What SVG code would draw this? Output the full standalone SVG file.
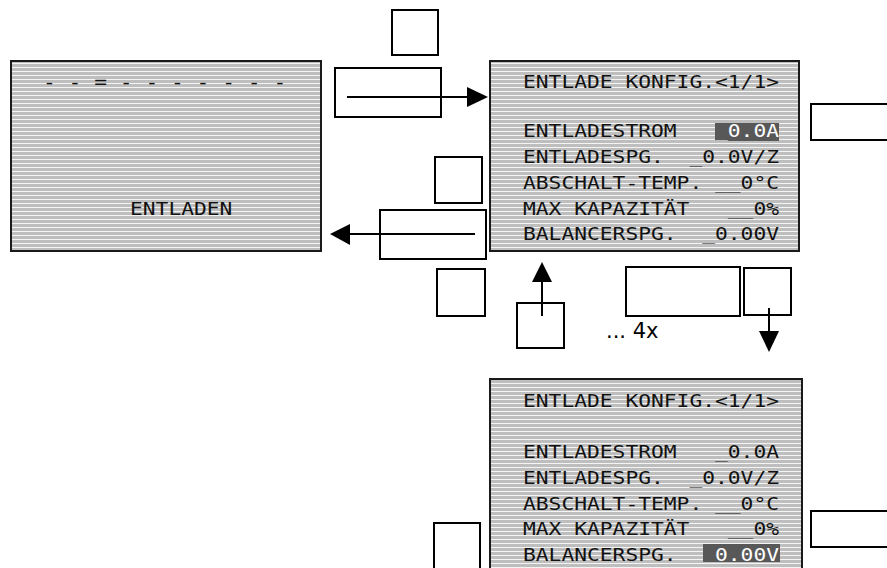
<svg xmlns="http://www.w3.org/2000/svg" width="887" height="568" viewBox="0 0 887 568">
<style>
.box{fill:none;stroke:#000;stroke-width:2}
.panel{fill:url(#stripes);stroke:#1a1a1a;stroke-width:2}
.lcd{font-family:"DejaVu Sans Mono","Liberation Mono",monospace;font-size:18px;fill:#111}
.inv{fill:#fff}
.hl{fill:#585858}
.wire{stroke:#000;stroke-width:2;fill:none}
.head{fill:#000}
.note{font-family:"DejaVu Sans","Liberation Sans",sans-serif;font-size:21px;fill:#000}
</style>
<defs>
<pattern id="stripes" patternUnits="userSpaceOnUse" width="8" height="4">
<rect width="8" height="4" fill="#bebebe"/>
<rect y="3" width="8" height="1" fill="#f4f4f4"/>
</pattern>
</defs>
<rect width="887" height="568" fill="#fff"/>

<g id="screen-main">
<rect class="panel" x="11" y="61" width="310" height="190"/>
<text class="lcd" x="43" y="88" textLength="243.2" lengthAdjust="spacingAndGlyphs">- - = - - - - - - -</text>
<text class="lcd" x="130" y="215" textLength="102.4" lengthAdjust="spacingAndGlyphs">ENTLADEN</text>
</g>

<g id="screen-config">
<rect class="panel" x="490" y="61" width="309" height="190"/>
<rect class="hl" x="715" y="123" width="64" height="18"/>
<text class="lcd" x="523" y="88" textLength="256" lengthAdjust="spacingAndGlyphs">ENTLADE KONFIG.&lt;1/1&gt;</text>
<text class="lcd" x="523" y="137" textLength="153.6" lengthAdjust="spacingAndGlyphs">ENTLADESTROM</text>
<text class="lcd inv" x="715" y="137" textLength="64" lengthAdjust="spacingAndGlyphs">_0.0A</text>
<text class="lcd" x="523" y="163" textLength="140.8" lengthAdjust="spacingAndGlyphs">ENTLADESPG.</text>
<text class="lcd" x="689.4" y="163" textLength="89.6" lengthAdjust="spacingAndGlyphs">_0.0V/Z</text>
<text class="lcd" x="523" y="188.5" textLength="179.2" lengthAdjust="spacingAndGlyphs">ABSCHALT-TEMP.</text>
<text class="lcd" x="715" y="188.5" textLength="64" lengthAdjust="spacingAndGlyphs">__0°C</text>
<text class="lcd" x="523" y="214.5" textLength="166.4" lengthAdjust="spacingAndGlyphs">MAX KAPAZITÄT</text>
<text class="lcd" x="727.8" y="214.5" textLength="51.2" lengthAdjust="spacingAndGlyphs">__0%</text>
<text class="lcd" x="523" y="240" textLength="153.6" lengthAdjust="spacingAndGlyphs">BALANCERSPG.</text>
<text class="lcd" x="702.2" y="240" textLength="76.8" lengthAdjust="spacingAndGlyphs">_0.00V</text>
</g>

<g id="screen-config-2">
<rect class="panel" x="490" y="379" width="312" height="200"/>
<rect class="hl" x="703" y="544" width="77" height="18"/>
<text class="lcd" x="523" y="407" textLength="256" lengthAdjust="spacingAndGlyphs">ENTLADE KONFIG.&lt;1/1&gt;</text>
<text class="lcd" x="523" y="458" textLength="153.6" lengthAdjust="spacingAndGlyphs">ENTLADESTROM</text>
<text class="lcd" x="715" y="458" textLength="64" lengthAdjust="spacingAndGlyphs">_0.0A</text>
<text class="lcd" x="523" y="484" textLength="140.8" lengthAdjust="spacingAndGlyphs">ENTLADESPG.</text>
<text class="lcd" x="689.4" y="484" textLength="89.6" lengthAdjust="spacingAndGlyphs">_0.0V/Z</text>
<text class="lcd" x="523" y="509.5" textLength="179.2" lengthAdjust="spacingAndGlyphs">ABSCHALT-TEMP.</text>
<text class="lcd" x="715" y="509.5" textLength="64" lengthAdjust="spacingAndGlyphs">__0°C</text>
<text class="lcd" x="523" y="535" textLength="166.4" lengthAdjust="spacingAndGlyphs">MAX KAPAZITÄT</text>
<text class="lcd" x="727.8" y="535" textLength="51.2" lengthAdjust="spacingAndGlyphs">__0%</text>
<text class="lcd" x="523" y="560.5" textLength="153.6" lengthAdjust="spacingAndGlyphs">BALANCERSPG.</text>
<text class="lcd inv" x="715" y="560.5" textLength="64" lengthAdjust="spacingAndGlyphs">0.00V</text>
</g>

<g id="key-top"><rect class="box" x="392" y="10" width="46" height="45"/></g>
<g id="key-enter"><rect class="box" x="335" y="68" width="106" height="49"/></g>
<g id="key-mid"><rect class="box" x="435" y="157" width="47" height="46"/></g>
<g id="key-back"><rect class="box" x="380" y="210" width="106" height="49"/></g>
<g id="key-low"><rect class="box" x="437" y="269" width="48" height="47"/></g>
<g id="key-up"><rect class="box" x="517" y="303" width="47" height="45"/></g>
<g id="key-wide"><rect class="box" x="626" y="267" width="114" height="49"/></g>
<g id="key-down"><rect class="box" x="744" y="268" width="47" height="47"/></g>
<g id="key-right-top"><rect class="box" x="811" y="104" width="90" height="36"/></g>
<g id="key-right-bottom"><rect class="box" x="811" y="511" width="90" height="36"/></g>
<g id="key-left-bottom"><rect class="box" x="434" y="523" width="46" height="60"/></g>
<g id="repeat-label"><text class="note" x="606" y="338">... 4x</text></g>

<g id="connectors">
<line class="wire" x1="347" y1="97" x2="468" y2="97"/>
<polygon class="head" points="467,87 488,97 467,107"/>
<line class="wire" x1="475" y1="234" x2="349" y2="234"/>
<polygon class="head" points="350,224 330,234 350,245"/>
<line class="wire" x1="542" y1="316" x2="542" y2="281"/>
<polygon class="head" points="532,282 542,262 552,282"/>
<line class="wire" x1="769" y1="308" x2="769" y2="332"/>
<polygon class="head" points="759,331 769,352 779,331"/>
</g>
</svg>
